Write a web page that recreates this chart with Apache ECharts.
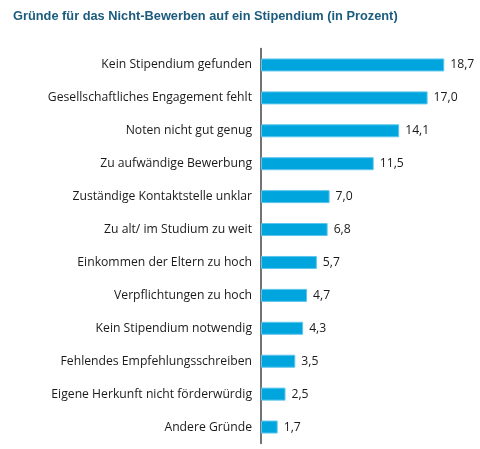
<!DOCTYPE html>
<html><head><meta charset="utf-8">
<script src="https://cdn.jsdelivr.net/npm/echarts@6/dist/echarts.min.js"></script>
<style>html,body{margin:0;padding:0;background:#fff}#c{width:480px;height:449px}</style>
</head><body><div id="c"></div>
<script>
const categories = ["Kein Stipendium gefunden","Gesellschaftliches Engagement fehlt","Noten nicht gut genug","Zu aufwändige Bewerbung","Zuständige Kontaktstelle unklar","Zu alt/ im Studium zu weit","Einkommen der Eltern zu hoch","Verpflichtungen zu hoch","Kein Stipendium notwendig","Fehlendes Empfehlungsschreiben","Eigene Herkunft nicht förderwürdig","Andere Gründe"];
const values = [18.7,17.0,14.1,11.5,7.0,6.8,5.7,4.7,4.3,3.5,2.5,1.7];
const chart = echarts.init(document.getElementById('c'));
chart.setOption({
  animation:false,
  title:{text:"Gründe für das Nicht-Bewerben auf ein Stipendium (in Prozent)",left:8,top:5,
    textStyle:{fontFamily:"Liberation Sans, Arial",fontWeight:"bold",fontSize:12.8,color:"#1b5b7e"}},
  grid:{left:261,right:23,top:48.5,bottom:5.5,containLabel:false},
  xAxis:{type:'value',min:0,max:20,show:false},
  yAxis:{type:'category',data:categories,inverse:true,
    axisLine:{show:true,lineStyle:{color:'#444',width:1.5}},
    axisTick:{show:false},
    axisLabel:{margin:9,fontFamily:"Open Sans",fontSize:12.2,color:'#1a1a1a'}},
  series:[{type:'bar',data:values,barWidth:13,
    itemStyle:{color:'#00a5dd',borderColor:'#5cc6ee',borderWidth:1},
    label:{show:true,position:'right',distance:6,fontFamily:"Open Sans",fontSize:12.2,color:'#1a1a1a',
      formatter:p=>p.value.toFixed(1).replace('.',',')}}]
});
</script></body></html>
